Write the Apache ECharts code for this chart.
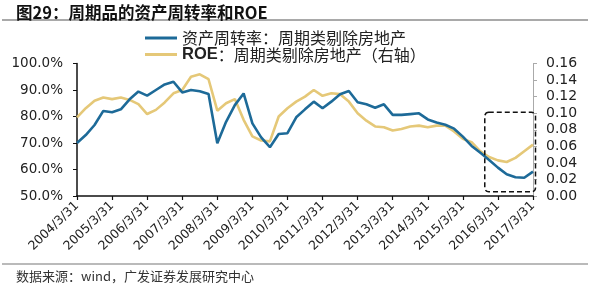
<!DOCTYPE html>
<html>
<head>
<meta charset="utf-8">
<script src="https://cdn.jsdelivr.net/npm/echarts@6/dist/echarts.min.js"></script>
<style>
html,body{margin:0;padding:0;background:#fff;}
#c{width:600px;height:290px;}
</style>
</head>
<body>
<div id="c"></div>
<script>
const categories = [
 '2004/3/31','2004/6/30','2004/9/30','2004/12/31',
 '2005/3/31','2005/6/30','2005/9/30','2005/12/31',
 '2006/3/31','2006/6/30','2006/9/30','2006/12/31',
 '2007/3/31','2007/6/30','2007/9/30','2007/12/31',
 '2008/3/31','2008/6/30','2008/9/30','2008/12/31',
 '2009/3/31','2009/6/30','2009/9/30','2009/12/31',
 '2010/3/31','2010/6/30','2010/9/30','2010/12/31',
 '2011/3/31','2011/6/30','2011/9/30','2011/12/31',
 '2012/3/31','2012/6/30','2012/9/30','2012/12/31',
 '2013/3/31','2013/6/30','2013/9/30','2013/12/31',
 '2014/3/31','2014/6/30','2014/9/30','2014/12/31',
 '2015/3/31','2015/6/30','2015/9/30','2015/12/31',
 '2016/3/31','2016/6/30','2016/9/30','2016/12/31',
 '2017/3/31'
];
// 资产周转率 (%)
const turnover = [70.0, 73.0, 76.8, 82.1, 81.6, 82.7, 86.5, 89.4, 87.9, 90.0, 92.1, 93.1, 89.1,
  90.0, 89.5, 88.5, 69.9, 78.0, 84.3, 88.7, 77.4, 72.1, 68.4, 73.4, 73.7, 79.7,
  82.7, 85.6, 83.1, 85.6, 88.4, 89.6, 85.4, 84.6, 83.3, 84.6, 80.6, 80.6, 80.9, 81.2,
  78.9, 77.7, 76.9, 75.4, 72.4, 68.9, 66.3, 63.6, 60.7, 58.2, 57.1, 56.9, 59.2];
// ROE (右轴)
const roe = [0.095, 0.106, 0.115, 0.119, 0.117, 0.119, 0.116, 0.111, 0.099, 0.104, 0.113, 0.124, 0.128,
  0.144, 0.147, 0.141, 0.103, 0.112, 0.117, 0.092, 0.072, 0.067, 0.066, 0.096, 0.106, 0.114,
  0.120, 0.128, 0.121, 0.124, 0.123, 0.114, 0.100, 0.091, 0.084, 0.083, 0.079, 0.081, 0.084, 0.085,
  0.083, 0.085, 0.085, 0.078, 0.069, 0.065, 0.054, 0.047, 0.043, 0.041, 0.046, 0.054, 0.062];
const leftTicks = [50, 60, 70, 80, 90, 100];
const rightTicks = [0, 0.02, 0.04, 0.06, 0.08, 0.10, 0.12, 0.14, 0.16];
const seriesNames = ['资产周转率：周期类剔除房地产', 'ROE：周期类剔除房地产（右轴）'];
const titleText = '图29：周期品的资产周转率和ROE';
const sourceText = '数据来源：wind，广发证券发展研究中心';
// highlighted period (box)
const boxStart = 46, boxEnd = 52, boxTop = 0.101, boxBottom = 0.005;

const chart = echarts.init(document.getElementById('c'), null, {renderer: 'canvas'});
const axisFont = 'DejaVu Sans';
const option = {
  animation: false,
  backgroundColor: '#fff',
  title: {
    text: titleText, left: 11, top: -1,
    textStyle: {fontSize: 16.5, fontWeight: 'bold', color: '#111', fontFamily: 'Noto Sans CJK SC'}
  },
  legend: {
    orient: 'vertical', left: 140, top: 25,
    itemWidth: 32, itemHeight: 3, itemGap: 0, icon: 'rect',
    data: seriesNames,
    formatter: n => n.startsWith('ROE') ? '{b|ROE}' + n.slice(3) : n,
    textStyle: {fontSize: 16, color: '#222', fontFamily: 'Noto Sans CJK SC',
      rich: {b: {fontSize: 16.5, fontWeight: 'bold', color: '#222', fontFamily: 'Liberation Sans'}}}
  },
  grid: {left: 77, right: 67, top: 63.5, bottom: 94, containLabel: false},
  xAxis: {
    type: 'category', data: categories, boundaryGap: false,
    axisLine: {lineStyle: {color: '#111', width: 1.5}},
    axisTick: {interval: 3, length: 4, lineStyle: {color: '#111', width: 1.2}},
    axisLabel: {interval: 3, rotate: 44, margin: 8, fontSize: 12.5, color: '#222', fontFamily: axisFont},
    splitLine: {show: false}
  },
  yAxis: [
    {
      type: 'value', min: leftTicks[0], max: leftTicks[leftTicks.length - 1], interval: 10,
      axisLine: {show: true, lineStyle: {color: '#111', width: 1.5}},
      axisTick: {show: true, length: 4, lineStyle: {color: '#111'}},
      axisLabel: {formatter: v => v.toFixed(1) + '%', fontSize: 13.5, color: '#222', fontFamily: axisFont, margin: 14},
      splitLine: {show: false}
    },
    {
      type: 'value', min: rightTicks[0], max: rightTicks[rightTicks.length - 1], interval: 0.02,
      position: 'right',
      axisLine: {show: true, lineStyle: {color: '#aaa', width: 1}},
      axisTick: {show: true, length: 4, lineStyle: {color: '#aaa'}},
      axisLabel: {formatter: v => v.toFixed(2), fontSize: 14, color: '#222', fontFamily: axisFont, margin: 13},
      splitLine: {show: false}
    }
  ],
  series: [
    {
      name: seriesNames[0], type: 'line', data: turnover, yAxisIndex: 0,
      symbol: 'none', z: 3,
      lineStyle: {color: '#1d6a98', width: 2.6}, itemStyle: {color: '#1d6a98'}
    },
    {
      name: seriesNames[1], type: 'line', data: roe, yAxisIndex: 1,
      symbol: 'none', z: 2,
      lineStyle: {color: '#e5c878', width: 2.6}, itemStyle: {color: '#e5c878'}
    }
  ]
};
chart.setOption(option);

const a = chart.convertToPixel({seriesIndex: 1}, [boxStart, boxTop]);
const a2 = chart.convertToPixel({seriesIndex: 1}, [boxStart + 1, boxTop]);
const b = chart.convertToPixel({seriesIndex: 1}, [boxEnd, boxBottom]);
const step = a2[0] - a[0];
const bx = a[0] + step * 0.5, by = a[1];
const bw = b[0] + 2.5 - bx, bh = b[1] - a[1];

chart.setOption({
  graphic: [
    {type: 'line', shape: {x1: 2, y1: 20, x2: 588, y2: 20}, style: {stroke: '#555', lineWidth: 1.2}, silent: true},
    {type: 'line', shape: {x1: 2, y1: 264, x2: 588, y2: 264}, style: {stroke: '#777', lineWidth: 1.2}, silent: true},
    {type: 'text', left: 16, top: 270,
      style: {text: sourceText, fontSize: 13, fill: '#333', fontFamily: 'Noto Sans CJK SC'}},
    {type: 'rect', shape: {x: bx, y: by, width: bw, height: bh, r: 4}, z: 10,
      style: {fill: 'none', stroke: '#111', lineWidth: 1.5, lineDash: [5, 3]}, silent: true}
  ]
});
</script>
</body>
</html>
